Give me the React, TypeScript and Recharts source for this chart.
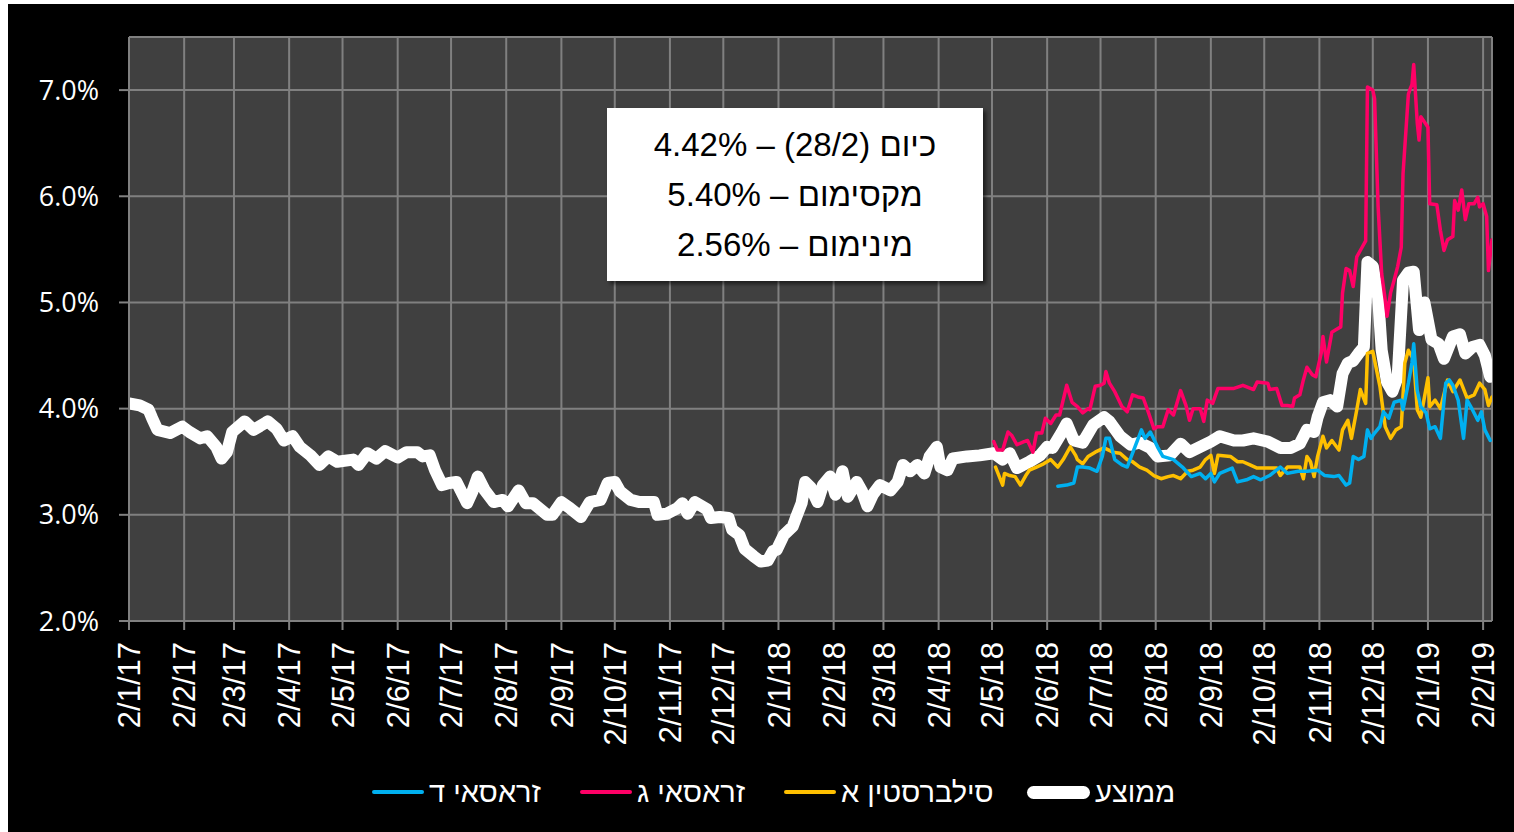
import React from 'react';
import { LineChart, Line, XAxis, YAxis, CartesianGrid, Legend } from 'recharts';

// x values are day offsets from 2/1/17 (2 January 2017)
const tickLabels = [
  '2/1/17', '2/2/17', '2/3/17', '2/4/17', '2/5/17', '2/6/17', '2/7/17', '2/8/17', '2/9/17', '2/10/17', '2/11/17', '2/12/17',
  '2/1/18', '2/2/18', '2/3/18', '2/4/18', '2/5/18', '2/6/18', '2/7/18', '2/8/18', '2/9/18', '2/10/18', '2/11/18', '2/12/18',
  '2/1/19', '2/2/19',
];
const yTicks = [2, 3, 4, 5, 6, 7];

// ממוצע (average)
const avgDays = [0, 6, 11, 13, 16, 23, 30, 34, 40, 44, 49, 52, 55, 58, 65, 70, 78, 83, 87, 92, 96, 102, 107, 112, 117, 126, 129, 134, 139, 144, 151, 156, 162, 165, 169, 172, 176, 180, 184, 190, 193, 196, 200, 205, 210, 213, 219, 223, 227, 235, 238, 243, 248, 254, 259, 265, 269, 273, 276, 282, 287, 295, 297, 302, 308, 311, 314, 318, 325, 327, 332, 337, 339, 343, 346, 351, 355, 359, 362, 364, 368, 373, 375, 378, 380, 383, 387, 390, 394, 397, 401, 404, 409, 412, 415, 418, 422, 428, 432, 435, 439, 443, 447, 450, 454, 456, 460, 463, 471, 478, 486, 491, 495, 499, 506, 512, 516, 519, 524, 527, 531, 536, 542, 548, 551, 557, 563, 568, 574, 578, 585, 591, 596, 602, 608, 613, 621, 626, 632, 640, 647, 653, 658, 662, 666, 668, 671, 675, 679, 682, 685, 688, 691, 694, 696, 699, 702, 704, 707, 710, 713, 716, 719, 722, 725, 728, 732, 736, 739, 744, 748, 751, 755, 759, 762, 765];
const avgValues = [4.05, 4.03, 3.99, 3.91, 3.80, 3.77, 3.83, 3.78, 3.72, 3.74, 3.64, 3.53, 3.59, 3.78, 3.88, 3.80, 3.88, 3.81, 3.70, 3.74, 3.64, 3.56, 3.47, 3.55, 3.50, 3.52, 3.47, 3.58, 3.53, 3.60, 3.54, 3.59, 3.59, 3.55, 3.56, 3.42, 3.28, 3.30, 3.31, 3.11, 3.22, 3.36, 3.23, 3.12, 3.14, 3.08, 3.23, 3.11, 3.11, 3.00, 3.00, 3.12, 3.06, 2.98, 3.12, 3.14, 3.30, 3.31, 3.22, 3.14, 3.12, 3.12, 3.00, 3.01, 3.06, 3.11, 3.01, 3.12, 3.05, 2.97, 2.98, 2.97, 2.86, 2.81, 2.68, 2.61, 2.56, 2.57, 2.66, 2.67, 2.81, 2.89, 2.98, 3.11, 3.31, 3.26, 3.12, 3.28, 3.36, 3.19, 3.41, 3.17, 3.31, 3.22, 3.08, 3.19, 3.28, 3.23, 3.31, 3.47, 3.41, 3.47, 3.39, 3.55, 3.64, 3.45, 3.42, 3.53, 3.55, 3.56, 3.58, 3.52, 3.58, 3.44, 3.50, 3.56, 3.64, 3.63, 3.77, 3.86, 3.70, 3.68, 3.85, 3.92, 3.88, 3.74, 3.66, 3.68, 3.63, 3.55, 3.56, 3.67, 3.59, 3.64, 3.69, 3.74, 3.70, 3.70, 3.72, 3.69, 3.63, 3.63, 3.67, 3.80, 3.78, 3.92, 4.06, 4.08, 4.02, 4.33, 4.43, 4.45, 4.52, 4.58, 5.38, 5.34, 5.05, 4.55, 4.25, 4.16, 4.30, 5.21, 5.28, 5.29, 4.74, 5.00, 4.65, 4.61, 4.47, 4.68, 4.70, 4.52, 4.58, 4.60, 4.50, 4.30];

// סילברסטין א
const silDays = [487, 491, 492, 495, 498, 501, 504, 506, 510, 514, 518, 522, 525, 529, 532, 533, 536, 539, 543, 548, 553, 557, 561, 564, 568, 572, 576, 580, 584, 587, 591, 595, 598, 602, 605, 608, 610, 612, 619, 623, 626, 630, 634, 640, 645, 647, 651, 654, 658, 660, 662, 664, 666, 668, 671, 673, 676, 680, 682, 685, 687, 690, 692, 695, 696, 699, 703, 706, 709, 712, 715, 717, 719, 722, 724, 726, 730, 731, 734, 737, 741, 744, 748, 752, 756, 759, 762, 764, 766];
const silValues = [3.45, 3.28, 3.39, 3.37, 3.36, 3.28, 3.37, 3.42, 3.45, 3.48, 3.52, 3.45, 3.52, 3.64, 3.56, 3.52, 3.48, 3.55, 3.59, 3.63, 3.59, 3.58, 3.52, 3.50, 3.45, 3.42, 3.37, 3.34, 3.36, 3.37, 3.34, 3.41, 3.42, 3.45, 3.52, 3.56, 3.39, 3.56, 3.55, 3.50, 3.50, 3.47, 3.44, 3.44, 3.44, 3.37, 3.45, 3.45, 3.45, 3.34, 3.55, 3.50, 3.36, 3.55, 3.74, 3.63, 3.70, 3.61, 3.80, 3.89, 3.72, 3.99, 4.18, 4.05, 4.52, 4.54, 4.21, 3.83, 3.72, 3.80, 3.83, 4.43, 4.55, 4.46, 3.99, 3.92, 4.29, 4.02, 4.08, 4.00, 4.27, 4.16, 4.27, 4.10, 4.13, 4.24, 4.18, 4.03, 4.11];

// זראסאי ג
const zgDays = [486, 488, 491, 494, 496, 499, 503, 505, 508, 510, 513, 515, 518, 521, 523, 525, 527, 530, 533, 536, 539, 540, 543, 546, 548, 549, 551, 554, 558, 561, 564, 567, 570, 573, 576, 578, 581, 584, 587, 591, 594, 596, 598, 602, 604, 606, 609, 612, 621, 626, 632, 634, 640, 641, 645, 648, 651, 654, 655, 658, 660, 662, 665, 667, 670, 671, 673, 676, 678, 681, 682, 684, 686, 688, 690, 693, 695, 696, 699, 700, 702, 704, 706, 707, 709, 711, 713, 715, 716, 719, 720, 721, 722, 724, 725, 726, 730, 731, 735, 737, 739, 741, 744, 745, 747, 749, 751, 753, 756, 758, 759, 761, 763, 764, 766];
const zgValues = [3.69, 3.61, 3.61, 3.78, 3.75, 3.66, 3.69, 3.70, 3.59, 3.77, 3.77, 3.91, 3.86, 3.94, 3.94, 4.08, 4.22, 4.06, 4.02, 3.96, 4.00, 3.99, 4.21, 4.22, 4.24, 4.35, 4.24, 4.16, 4.02, 3.97, 4.13, 4.11, 4.10, 3.96, 3.81, 3.83, 3.83, 3.99, 3.94, 4.17, 4.03, 3.89, 4.00, 4.00, 3.88, 4.08, 4.05, 4.19, 4.19, 4.22, 4.18, 4.25, 4.24, 4.18, 4.19, 4.03, 4.03, 4.02, 4.10, 4.13, 4.27, 4.39, 4.32, 4.30, 4.52, 4.68, 4.44, 4.72, 4.74, 4.77, 5.09, 5.32, 5.30, 5.15, 5.43, 5.52, 5.58, 7.03, 7.00, 6.92, 5.90, 5.27, 5.02, 4.87, 5.09, 5.21, 5.34, 5.52, 6.21, 6.96, 7.01, 7.05, 7.24, 6.69, 6.53, 6.75, 6.65, 5.93, 5.92, 5.68, 5.49, 5.59, 5.62, 5.96, 5.87, 6.06, 5.78, 5.93, 5.93, 5.99, 5.90, 5.93, 5.81, 5.30, 5.59];

// זראסאי ד
const zdDays = [522, 527, 531, 533, 536, 540, 544, 547, 549, 551, 554, 558, 561, 564, 569, 571, 574, 578, 581, 587, 592, 597, 602, 605, 608, 610, 613, 620, 623, 628, 632, 636, 641, 647, 651, 657, 662, 668, 672, 677, 680, 684, 686, 688, 691, 694, 696, 698, 700, 703, 705, 708, 711, 715, 716, 719, 721, 722, 724, 726, 729, 731, 734, 737, 740, 742, 744, 747, 750, 752, 755, 758, 760, 762, 765];
const zdValues = [3.27, 3.28, 3.30, 3.45, 3.45, 3.44, 3.41, 3.55, 3.72, 3.72, 3.52, 3.47, 3.45, 3.58, 3.80, 3.72, 3.78, 3.64, 3.55, 3.52, 3.45, 3.36, 3.39, 3.34, 3.39, 3.31, 3.39, 3.44, 3.31, 3.33, 3.36, 3.33, 3.37, 3.45, 3.39, 3.41, 3.41, 3.42, 3.37, 3.36, 3.37, 3.28, 3.30, 3.55, 3.52, 3.55, 3.80, 3.72, 3.77, 3.83, 3.97, 3.91, 4.06, 4.08, 3.99, 4.24, 4.43, 4.61, 4.17, 4.02, 3.96, 3.81, 3.83, 3.72, 4.24, 4.27, 4.22, 4.08, 3.72, 4.08, 3.99, 3.89, 3.97, 3.80, 3.70];

const annotationLines = ['כיום (28/2) – 4.42%', 'מקסימום – 5.40%', 'מינימום – 2.56%'];

const series = [
  { name: 'ממוצע', days: avgDays, values: avgValues, color: '#FFFFFF', width: 12 },
  { name: 'סילברסטין א', days: silDays, values: silValues, color: '#FFC000', width: 3.5 },
  { name: 'זראסאי ג', days: zgDays, values: zgValues, color: '#FF0066', width: 3.5 },
  { name: 'זראסאי ד', days: zdDays, values: zdValues, color: '#00B0F0', width: 3.5 },
];
const legendOrder = ['זראסאי ד', 'זראסאי ג', 'סילברסטין א', 'ממוצע'];
const legendLeft = [364, 572, 776, 1019];

const BASE = Date.UTC(2017, 0, 2);
const labelToDay = (s: string) => {
  const [d, m, y] = s.split('/').map(Number);
  return Math.round((Date.UTC(2000 + y, m - 1, d) - BASE) / 86400000);
};
const tickDays = tickLabels.map(labelToDay);
const labelByDay: Record<number, string> = {};
tickDays.forEach((d, i) => { labelByDay[d] = tickLabels[i]; });

const W = 1506;
const H = 828;
const FONT = '"Liberation Sans", Arial, "DejaVu Sans", sans-serif';

const XTick = (props: any) => {
  const { x, y, payload } = props;
  return (
    <text
      x={x}
      y={y}
      transform={`rotate(-90, ${x}, ${y})`}
      textAnchor="end"
      dy="0.36em"
      fill="#FFFFFF"
      fontSize={31}
      fontFamily={FONT}
    >
      {labelByDay[payload.value]}
    </text>
  );
};

const LegendContent = () => (
  <div style={{ position: 'relative', height: 40, width: W, fontFamily: FONT, fontSize: 29, color: '#FFFFFF' }}>
    {legendOrder.map((name, i) => {
      const s = series.find((q) => q.name === name)!;
      const thick = s.width > 5;
      return (
        <div
          key={name}
          style={{ position: 'absolute', left: legendLeft[i], top: 0, height: 40, display: 'flex', alignItems: 'center', whiteSpace: 'nowrap' }}
        >
          <div
            style={{
              width: thick ? 63 : 52,
              height: thick ? 13 : 4,
              borderRadius: 7,
              background: s.color,
              marginRight: 5,
            }}
          />
          <span style={{ lineHeight: '40px' }}>{name}</span>
        </div>
      );
    })}
  </div>
);

export default function App() {
  return (
    <div style={{ position: 'fixed', left: 8, top: 4, width: W, height: H, background: '#000000' }}>
      <LineChart width={W} height={H} margin={{ top: 33, right: 22, left: 0, bottom: 71 }}>
        <CartesianGrid stroke="#808080" strokeWidth={2} fill="#404040" fillOpacity={1} />
        <XAxis
          type="number"
          dataKey="d"
          domain={[0, 766]}
          ticks={tickDays}
          interval={0}
          allowDataOverflow
          height={140}
          tickSize={9}
          tickMargin={12}
          stroke="#808080"
          axisLine={{ stroke: '#808080', strokeWidth: 2 }}
          tickLine={{ stroke: '#808080', strokeWidth: 2 }}
          tick={<XTick />}
        />
        <YAxis
          type="number"
          domain={[2, 7.5]}
          ticks={yTicks}
          interval={0}
          allowDataOverflow
          width={121}
          tickSize={10}
          tickMargin={20}
          axisLine={{ stroke: '#808080', strokeWidth: 2 }}
          tickLine={{ stroke: '#808080', strokeWidth: 2 }}
          tick={{ fill: '#FFFFFF', fontSize: 27, fontFamily: '"Open Sans", sans-serif' }}
          tickFormatter={(v: number) => `${v.toFixed(1)}%`}
        />
        {series.map((s) => (
          <Line
            key={s.name}
            name={s.name}
            data={s.days.map((d, i) => ({ d, v: s.values[i] }))}
            dataKey="v"
            type="linear"
            stroke={s.color}
            strokeWidth={s.width}
            strokeLinejoin="round"
            strokeLinecap="round"
            dot={false}
            activeDot={false}
            isAnimationActive={false}
          />
        ))}
        <Legend
          layout="horizontal"
          verticalAlign="middle"
          align="center"
          wrapperStyle={{ top: 768, left: 0, width: W }}
          content={<LegendContent />}
        />
      </LineChart>
      <div
        style={{
          position: 'absolute',
          left: 599,
          top: 104,
          width: 376,
          height: 173,
          background: '#FFFFFF',
          boxShadow: '3px 3px 4px rgba(0,0,0,0.55)',
          boxSizing: 'border-box',
          paddingTop: 12,
          textAlign: 'center',
          direction: 'rtl',
          fontFamily: FONT,
          fontSize: 33,
          lineHeight: '50px',
          color: '#000000',
        }}
      >
        {annotationLines.map((t) => (
          <div key={t}>{t}</div>
        ))}
      </div>
    </div>
  );
}
